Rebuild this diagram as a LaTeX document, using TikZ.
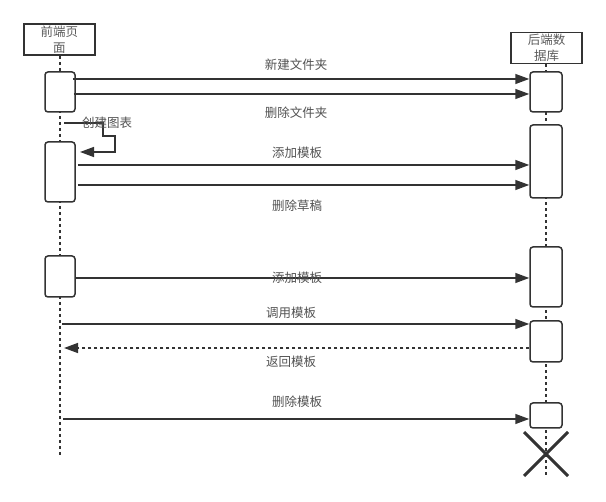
\documentclass[tikz,border=0pt]{standalone}
\usepackage{fontspec}
\setmainfont{Noto Sans CJK SC}
\usetikzlibrary{arrows.meta, positioning, calc, shapes.misc}
\definecolor{seqgray}{RGB}{51,51,51}

\tikzset{
  actor/.style={draw=seqgray, line width=1.6pt, minimum width=71pt, minimum height=31pt,
    inner sep=0pt, align=center, font=\fontsize{12.5}{15.5}\selectfont, text=seqgray!80},
  act/.style={draw=seqgray, line width=1.5pt, rounded corners=3pt, fill=white, inner sep=0pt},
  life/.style={seqgray, line width=1.5pt, dash pattern=on 3pt off 3pt},
  msg/.style={seqgray, line width=1.5pt, -{Triangle[length=14pt,width=10pt]}},
  ret/.style={seqgray, line width=1.5pt, dash pattern=on 3pt off 3pt, -{Triangle[length=14pt,width=10pt]}},
  lbl/.style={font=\fontsize{12.5}{13}\selectfont, text=seqgray!85, inner sep=1pt}
}

\begin{document}
\begin{tikzpicture}[x=1pt, y=-1pt]
\useasboundingbox (0,0) rectangle (606,502);

% lifeline heads
\node[actor] (front) at (59.5,39.5) {前端页\\面};
\node[actor] (back) at (546.5,48) {后端数\\据库};
\coordinate (frontend) at (60,455);
\coordinate (backend) at (546,477);
\draw[life] (front.south -| frontend) -- (frontend);
\draw[life] (back.south -| backend) -- (backend);

% activation boxes
\node[act, minimum width=30pt, minimum height=40pt] (fa1) at (60,92) {};
\node[act, minimum width=30pt, minimum height=60pt] (fa2) at (60,172) {};
\node[act, minimum width=30pt, minimum height=41pt] (fa3) at (60,276.5) {};
\node[act, minimum width=32pt, minimum height=40pt] (ba1) at (546,92) {};
\node[act, minimum width=32pt, minimum height=73pt] (ba2) at (546,161.5) {};
\node[act, minimum width=32pt, minimum height=60pt] (ba3) at (546,277) {};
\node[act, minimum width=32pt, minimum height=41pt] (ba4) at (546,341.5) {};
\node[act, minimum width=32pt, minimum height=25pt] (ba5) at (546,415.5) {};
\node[draw=seqgray, cross out, line width=3pt, minimum size=41pt, inner sep=0pt] (stop) at (546,454) {};

% message rows
\coordinate (m1) at (0,79);
\coordinate (m2) at (0,94);
\coordinate (m3) at (0,165);
\coordinate (m4) at (0,185);
\coordinate (m5) at (0,278);
\coordinate (m6) at (0,324);
\coordinate (m7) at (0,348);
\coordinate (m8) at (0,419);

\draw[msg] ([xshift=-3pt]fa1.east |- m1) -- (ba1.west |- m1);
\draw[msg] ([xshift=-2pt]fa1.east |- m2) -- (ba1.west |- m2);
\draw[msg] ([xshift=2pt]fa2.east |- m3) -- (ba2.west |- m3);
\draw[msg] ([xshift=2pt]fa2.east |- m4) -- (ba2.west |- m4);
\draw[msg] (fa3.east |- m5) -- (ba3.west |- m5);
\draw[msg] ([xshift=2pt]frontend |- m6) -- (ba4.west |- m6);
\draw[ret] (ba4.west |- m7) -- ([xshift=4pt]frontend |- m7);
\draw[msg] ([xshift=3pt]frontend |- m8) -- (ba5.west |- m8);

% self call
\coordinate (selfa) at (64,123);
\coordinate (selfb) at (80,152);
\draw[msg] (selfa) -- (103,123) -- (103,136) -- (115,136) -- (115,152) -- (selfb);
\node[lbl] (chart) at (107,123) {创建图表};

% message labels
\node[lbl] (lnew) at (296,65) {新建文件夹};
\node[lbl] (ldel) at (296,113) {删除文件夹};
\node[lbl] (ladd) at (297,153) {添加模板};
\node[lbl] (ldraft) at (297,206) {删除草稿};
\node[lbl] (ladd2) at (297,278) {添加模板};
\node[lbl] (lcall) at (291,313) {调用模板};
\node[lbl] (lret) at (291,362) {返回模板};
\node[lbl] (ldeltpl) at (297,402) {删除模板};
\end{tikzpicture}
\end{document}
